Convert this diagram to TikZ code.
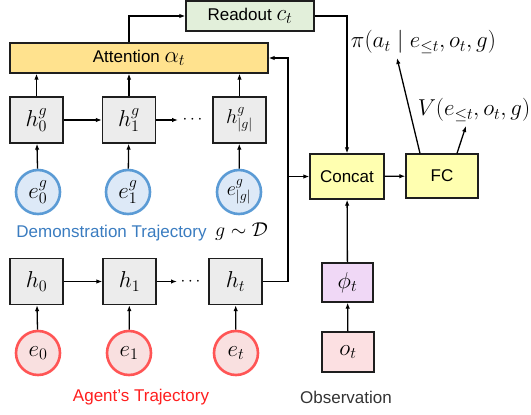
\RequirePackage{fix-cm}
\documentclass[tikz,border=0pt]{standalone}
\usepackage[no-math]{fontspec}
\setmainfont{Liberation Sans}
\usetikzlibrary{arrows.meta}
\definecolor{rdfill}{RGB}{226,239,218}
\definecolor{atfill}{RGB}{255,226,142}
\definecolor{ccfill}{RGB}{255,255,176}
\definecolor{hfill}{RGB}{236,236,236}
\definecolor{bluefill}{RGB}{221,233,247}
\definecolor{blueline}{RGB}{91,155,213}
\definecolor{redfill}{RGB}{249,224,224}
\definecolor{redline}{RGB}{255,85,85}
\definecolor{phifill}{RGB}{240,216,246}
\definecolor{ofill}{RGB}{252,224,226}
\definecolor{demotext}{RGB}{58,124,192}
\definecolor{agenttext}{RGB}{255,30,30}
\definecolor{boxline}{RGB}{30,30,30}
\newcommand{\tx}{\fontsize{17}{20}\selectfont}
\newcommand{\mx}{\fontsize{23}{27}\selectfont}
\newcommand{\ms}{\fontsize{20}{24}\selectfont}
\tikzset{
  box/.style={draw=boxline,line width=1.3pt,inner sep=0pt,anchor=center},
  hbox/.style={box,fill=hfill,minimum width=53pt,minimum height=46pt,font=\mx},
  egc/.style={circle,draw=blueline,fill=bluefill,line width=2.6pt,minimum size=44pt,inner sep=0pt,font=\mx},
  ec/.style={circle,draw=redline,fill=redfill,line width=2.6pt,minimum size=44pt,inner sep=0pt,font=\mx},
  arr/.style={-{Latex[length=6pt,width=4.5pt]},line width=1.3pt,black},
  dots/.style={font=\tx,inner sep=0pt},
}
\begin{document}
\begin{tikzpicture}[x=1pt,y=-1pt]
\useasboundingbox (0,0) rectangle (531,415);
% top boxes
\node[box,fill=rdfill,minimum width=128pt,minimum height=30pt] (rd) at (250,16) {\tx Readout {\mx$c_t$}};
\node[box,fill=atfill,minimum width=258pt,minimum height=30pt] (att) at (139,58) {\tx Attention {\mx$\alpha_t$}};
% demo row
\node[hbox] (hg0) at (36.5,120) {$h_0^g$};
\node[hbox] (hg1) at (129,120) {$h_1^g$};
\node[hbox,font=\ms] (hgn) at (239.5,120) {$h_{|g|}^g$};
\node[dots] (dg) at (192.5,120) {$\cdots$};
\coordinate (dgl) at (178,120);
\node[egc] (eg0) at (38,192) {$e_0^g$};
\node[egc] (eg1) at (128,192) {$e_1^g$};
\node[egc,font=\ms] (egn) at (239,192) {$e_{|g|}^g$};
\node[text=demotext,font=\tx,inner sep=0pt] (demo) at (111.5,233) {Demonstration Trajectory};
\node[font=\ms,inner sep=0pt] (gd) at (241.5,232) {$g\sim\mathcal{D}$};
% agent row
\node[hbox] (h0) at (36.5,281.5) {$h_0$};
\node[hbox] (h1) at (129.5,281.5) {$h_1$};
\node[hbox] (ht) at (235.5,281.5) {$h_t$};
\node[dots] (da) at (190.5,281.5) {$\cdots$};
\coordinate (dal) at (177,281.5);
\node[ec] (e0) at (38,353) {$e_0$};
\node[ec] (e1) at (129,353) {$e_1$};
\node[ec] (et) at (236,353) {$e_t$};
\node[text=agenttext,font=\tx,inner sep=0pt] (agent) at (141,397) {Agent’s Trajectory};
% observation
\node[box,fill=ccfill,minimum width=74pt,minimum height=45pt,font=\tx] (cc) at (347,176.5) {Concat};
\node[box,fill=ccfill,minimum width=72pt,minimum height=44pt,font=\tx] (fc) at (442,176) {FC};
\node[box,fill=phifill,minimum width=51pt,minimum height=39pt,font=\mx] (phi) at (347.5,282.5) {$\phi_t$};
\node[box,fill=ofill,minimum width=52pt,minimum height=40pt,font=\mx] (ot) at (348,352) {$o_t$};
\node[text=black!80,font=\tx,inner sep=0pt] (obs) at (346,397) {Observation};
% outputs
\node[font=\mx,inner sep=0pt] (pi) at (423.5,42) {$\pi(a_t\mid e_{\leq t},o_t,g)$};
\node[font=\mx,inner sep=0pt] (V) at (474,110) {$V(e_{\leq t},o_t,g)$};
\coordinate (pitip) at (397,58);
\coordinate (vtip) at (466,126);
\coordinate (junc) at (288,176.5);
% connectors
\draw[arr] (hg0) -- (hg1);
\draw[arr] (hg1) -- (dgl);
\draw[arr] (h0) -- (h1);
\draw[arr] (h1) -- (dal);
\foreach \i in {hg0,hg1,hgn} \draw[arr] (\i.north) -- (\i.north |- att.south);
\draw[arr] (eg0) -- (hg0);
\draw[arr] (eg1) -- (hg1);
\draw[arr] (egn) -- (hgn);
\draw[arr] (e0) -- (h0);
\draw[arr] (e1) -- (h1);
\draw[arr] (et) -- (ht);
\draw[arr] (att.north -| hg1) |- (rd.west);
\draw[arr] (rd.east) -| (cc.north);
\draw[arr] (ht.east) -| (junc) |- (att.east);
\draw[arr] (junc) -- (cc.west);
\draw[arr] (cc) -- (fc);
\draw[arr] (ot) -- (phi);
\draw[arr] (phi) -- (cc);
\draw[arr] (fc.north -| 420,0) -- (pitip);
\draw[arr] (fc.north -| 457,0) -- (vtip);
\end{tikzpicture}
\end{document}
